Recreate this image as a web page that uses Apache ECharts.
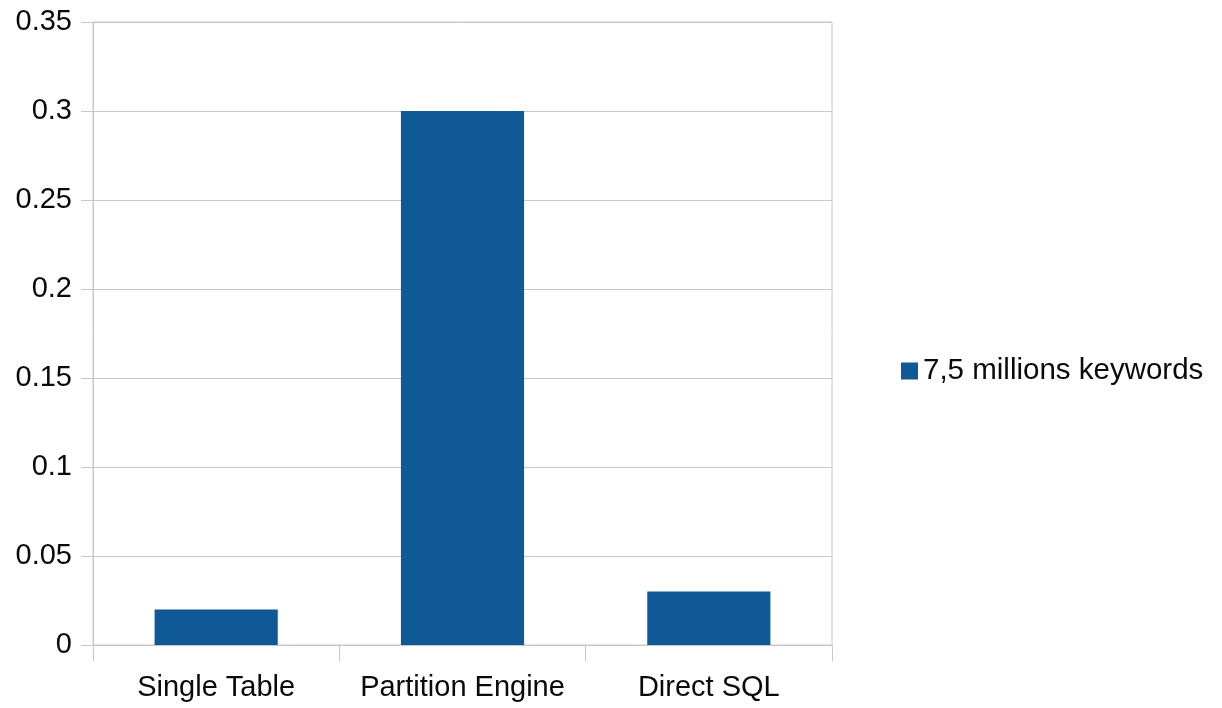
<!DOCTYPE html>
<html>
<head>
<meta charset="utf-8">
<script src="https://cdn.jsdelivr.net/npm/echarts@6/dist/echarts.min.js"></script>
<style>
  html, body { margin: 0; padding: 0; background: #fff; }
  #chart { width: 1222px; height: 708px; }
</style>
</head>
<body>
<div id="chart"></div>
<script>
// Query time per storage approach
const categories = ['Single Table', 'Partition Engine', 'Direct SQL'];
const seriesName = '7,5 millions keywords';
const values = [0.02, 0.30, 0.03];

const FONT = '"Liberation Sans", Arial, sans-serif';
const GRID_COLOR = '#c8c8c8';

const chart = echarts.init(document.getElementById('chart'));
chart.setOption({
  animation: false,
  backgroundColor: '#ffffff',
  grid: {
    left: 93, right: 390, top: 22, bottom: 63,
    show: true, borderColor: GRID_COLOR, borderWidth: 1,
    containLabel: false
  },
  legend: {
    data: [seriesName],
    orient: 'vertical',
    left: 896, top: 351,
    itemWidth: 17, itemHeight: 17, itemGap: 6,
    icon: 'rect',
    textStyle: { fontFamily: FONT, fontSize: 29.5, color: '#0a0a0a' }
  },
  xAxis: {
    type: 'category',
    data: categories,
    boundaryGap: true,
    axisLine: { lineStyle: { color: GRID_COLOR, width: 1 } },
    axisTick: { show: true, interval: 0, length: 16, lineStyle: { color: GRID_COLOR } },
    axisLabel: { interval: 0, hideOverlap: false, fontFamily: FONT, fontSize: 29, color: '#0a0a0a', margin: 28 },
    splitLine: { show: false }
  },
  yAxis: {
    type: 'value',
    min: 0, max: 0.35, interval: 0.05,
    axisLine: { show: true, lineStyle: { color: GRID_COLOR, width: 1 } },
    axisTick: { show: true, length: 12, lineStyle: { color: GRID_COLOR } },
    axisLabel: {
      fontFamily: FONT, fontSize: 29, color: '#0a0a0a', margin: 21,
      formatter: v => String(Math.round(v * 100) / 100)
    },
    splitLine: { show: true, lineStyle: { color: GRID_COLOR, width: 1 } }
  },
  series: [{
    name: seriesName,
    type: 'bar',
    data: values,
    barWidth: '50%',
    itemStyle: { color: '#0f5a96' }
  }]
});
</script>
</body>
</html>
